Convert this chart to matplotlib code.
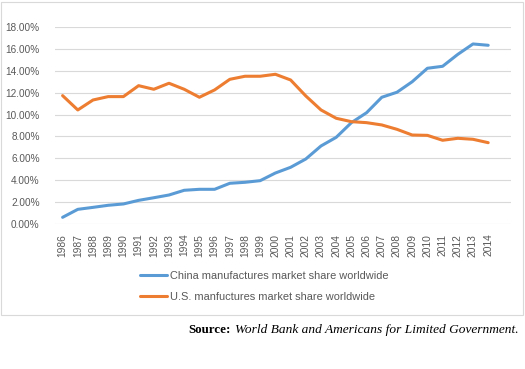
import matplotlib.pyplot as plt
from matplotlib.patches import Rectangle

years = list(range(1986, 2015))
china = [0.61, 1.34, 1.52, 1.71, 1.83, 2.16, 2.40, 2.65, 3.08, 3.17, 3.17, 3.72, 3.81, 3.96, 4.66,
         5.18, 5.94, 7.13, 7.92, 9.26, 10.17, 11.58, 12.04, 13.00, 14.23, 14.41, 15.50, 16.45, 16.33]
us = [11.73, 10.42, 11.33, 11.64, 11.64, 12.64, 12.31, 12.86, 12.31, 11.58, 12.25, 13.22, 13.50, 13.50, 13.68,
      13.16, 11.70, 10.42, 9.66, 9.35, 9.26, 9.05, 8.65, 8.13, 8.10, 7.65, 7.83, 7.74, 7.43]
yticks = [0, 2, 4, 6, 8, 10, 12, 14, 16, 18]

blue = '#5B9BD5'
orange = '#ED7D31'
txt = '#595959'
grid = '#D9D9D9'

fig = plt.figure(figsize=(5.25, 3.69), dpi=100)
fig.patch.set_facecolor('white')

# chart frame
fig.patches.append(Rectangle((0.5 / 525, 1 - 315 / 369), 522 / 525, 313 / 369,
                             transform=fig.transFigure, fill=False, edgecolor=grid, lw=0.8))

ax = fig.add_axes([55 / 525, 1 - 224 / 369, 456 / 525, 197 / 369])
x = list(range(len(years)))
ax.plot(x, china, color=blue, lw=2.2, solid_capstyle='round', solid_joinstyle='round',
        label='China manufactures market share worldwide', zorder=3)
ax.plot(x, us, color=orange, lw=2.2, solid_capstyle='round', solid_joinstyle='round',
        label='U.S. manfuctures market share worldwide', zorder=3)

ax.set_xlim(-0.5, 29.5)
ax.set_ylim(0, 18)
ax.set_yticks(yticks)
ax.set_yticklabels(['%.2f%%' % v for v in yticks], fontsize=7.2, color=txt, family='Liberation Sans')
ax.set_xticks(x)
ax.set_xticklabels([str(y) for y in years], rotation=90, fontsize=7.4, color=txt,
                   family='Liberation Sans')
ax.tick_params(axis='both', length=0)
ax.tick_params(axis='y', pad=11)
ax.tick_params(axis='x', pad=7)
ax.grid(axis='y', color=grid, lw=0.8)
ax.set_axisbelow(True)
for s in ax.spines.values():
    s.set_visible(False)

leg = fig.legend(loc='center left', bbox_to_anchor=(140 / 525, 1 - 286.5 / 369), frameon=False,
                 borderpad=0, borderaxespad=0, handlelength=2.5, handletextpad=0.2,
                 labelspacing=1.05, prop={'family': 'Liberation Sans', 'size': 7.9})
for t in leg.get_texts():
    t.set_color(txt)

# source line: italic part right-aligned, bold label just left of it
src = fig.text(519 / 525, 1 - 330 / 369, 'World Bank and Americans for Limited Government.',
               ha='right', va='center', fontsize=9.6, family='Liberation Serif', style='italic')
fig.canvas.draw()
bb = src.get_window_extent()
fig.text((bb.x0 - 5) / 525, 1 - 330 / 369, 'Source:', ha='right', va='center', fontsize=9.4,
         family='Liberation Serif', weight='bold')

fig.savefig('out.png', dpi=100, facecolor='white')
